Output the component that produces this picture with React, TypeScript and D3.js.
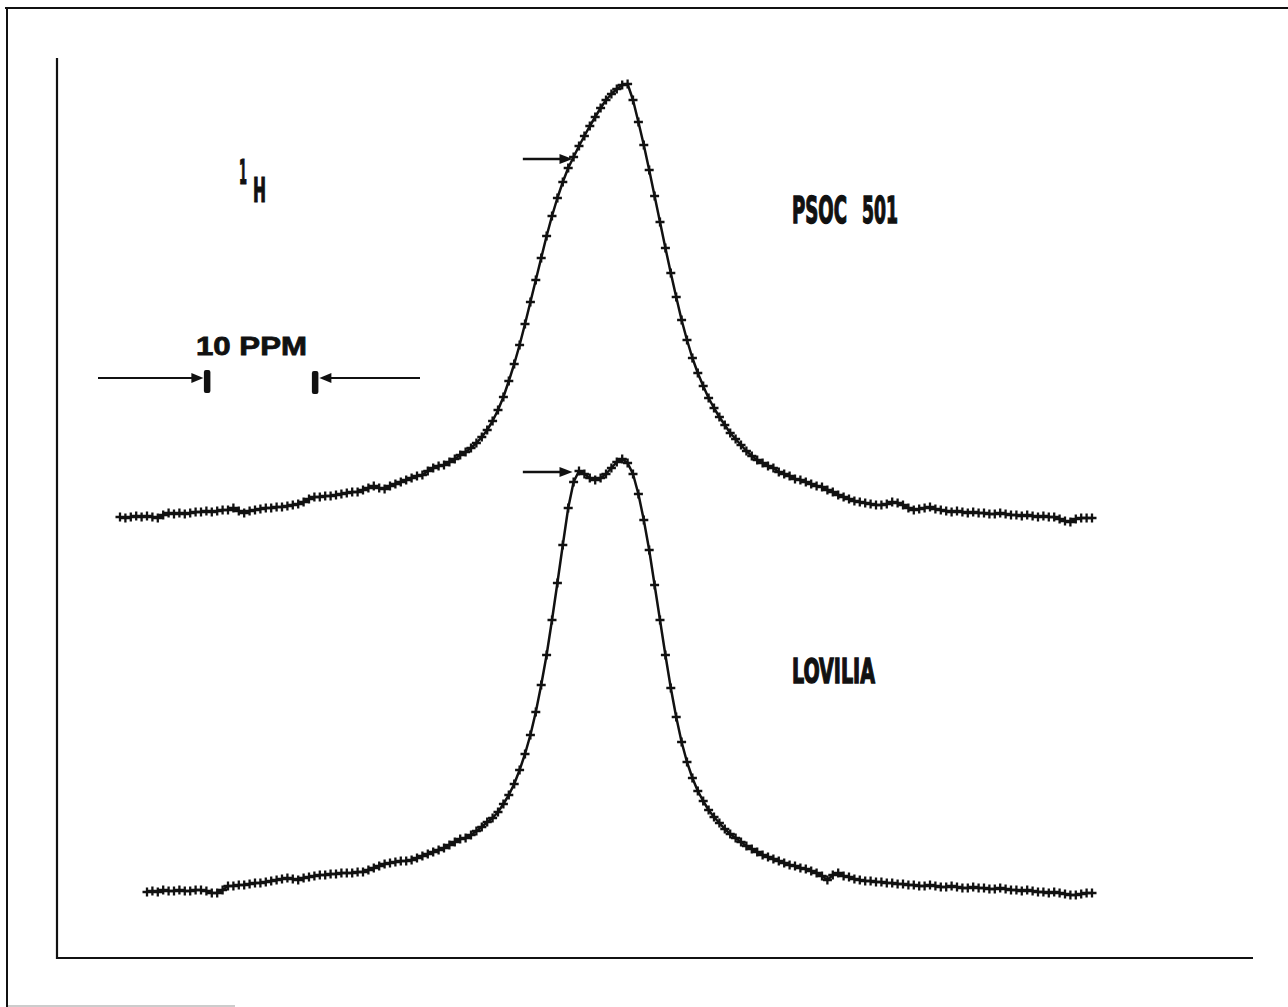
import React, { useLayoutEffect, useRef, useState } from "react";
import * as d3 from "d3";

// Sampling grid of both spectra (chemical shift, ppm)
const shiftStartPpm = 45;
const shiftStepPpm = 0.5;

// PSOC 501 intensities (arbitrary units, relative to its own baseline), from 45 ppm downward
const psocIntensity = [
  0, -0.2, 0, 0.2, 0, 0.2, 0, -0.2, 0.4, 0.8,
  0.6, 0.8, 0.6, 0.8, 1.0, 1.0, 1.2, 1.0, 1.2, 1.4,
  1.4, 1.8, 1.2, 0.8, 1.2, 1.4, 1.6, 1.8, 1.8, 2.0,
  2.0, 2.2, 2.4, 2.6, 3.0, 3.6, 4.0, 4.0, 4.2, 4.2,
  4.4, 4.6, 4.8, 5.0, 5.0, 5.4, 5.8, 6.2, 5.8, 5.6,
  6.2, 6.6, 7.0, 7.4, 7.8, 8.2, 8.4, 9.2, 9.8, 10.2,
  10.4, 11.0, 11.6, 12.4, 13.0, 13.8, 14.8, 16.0, 17.4, 19.2,
  21.4, 24.0, 27.2, 30.6, 34.4, 38.6, 43.0, 47.4, 51.8, 56.2,
  60.2, 63.8, 67.0, 69.8, 72.0, 74.2, 76.2, 78.2, 80.0, 81.8,
  83.4, 84.6, 85.6, 86.4, 86.6, 83.4, 79.0, 74.4, 69.4, 64.2,
  59.0, 53.8, 48.8, 44.0, 39.4, 35.4, 31.8, 28.8, 26.2, 23.8,
  21.8, 20.0, 18.4, 16.8, 15.6, 14.4, 13.2, 12.2, 11.4, 10.8,
  10.2, 9.8, 9.0, 8.6, 8.2, 7.6, 7.4, 7.0, 6.6, 6.2,
  6.0, 5.4, 5.0, 4.4, 4.0, 3.6, 3.2, 3.0, 2.8, 2.6,
  2.4, 2.4, 2.6, 3.0, 2.8, 2.4, 1.8, 1.4, 1.6, 1.8,
  2.0, 1.6, 1.4, 1.2, 1.0, 1.2, 1.0, 0.8, 1.0, 0.8,
  0.8, 0.6, 0.6, 0.8, 0.6, 0.4, 0.4, 0.2, 0.4, 0.2,
  0, 0.2, 0, 0, -0.4, -0.8, -1.0, -0.4, -0.2, -0.2,
  -0.2,
];

// LOVILIA intensities, starting at sample index 5 (42.5 ppm)
const loviliaStartIndex = 5;
const loviliaIntensity = [
  0.2, 0.4, 0.2, 0.6, 0.4,
  0.4, 0.6, 0.4, 0.4, 0.6, 0.6, 0.4, 0, 0, 0.6,
  1.4, 1.4, 1.6, 1.6, 1.8, 2.0, 2.0, 2.2, 2.4, 2.6,
  2.8, 3.0, 2.8, 2.6, 3.0, 3.2, 3.4, 3.6, 3.6, 3.8,
  3.8, 4.0, 4.0, 4.0, 4.2, 4.2, 4.6, 5.0, 5.4, 5.8,
  6.0, 6.2, 6.4, 6.4, 6.6, 7.0, 7.4, 7.8, 8.2, 8.6,
  9.0, 9.6, 10.2, 10.8, 11.0, 11.6, 12.4, 13.2, 14.2, 15.0,
  16.2, 17.8, 19.6, 21.8, 24.6, 27.8, 31.6, 36.2, 41.6, 47.6,
  54.6, 62.0, 69.6, 77.0, 82.2, 84.4, 83.8, 83.0, 82.6, 83.0,
  83.8, 85.0, 86.2, 86.8, 86.0, 83.8, 79.8, 74.6, 68.6, 61.6,
  54.6, 47.6, 41.0, 35.2, 30.2, 26.2, 23.0, 20.4, 18.4, 16.6,
  15.2, 14.0, 12.8, 11.8, 11.0, 10.2, 9.4, 8.8, 8.2, 7.6,
  7.2, 6.8, 6.4, 6.0, 5.6, 5.4, 5.0, 4.8, 4.4, 4.0,
  3.4, 2.6, 3.6, 4.0, 3.4, 3.2, 2.8, 2.6, 2.4, 2.4,
  2.2, 2.2, 2.0, 2.0, 1.8, 1.8, 1.6, 1.6, 1.4, 1.4,
  1.6, 1.4, 1.2, 1.2, 1.4, 1.2, 1.0, 1.0, 1.2, 1.0,
  1.0, 0.8, 0.8, 1.0, 0.8, 0.6, 0.6, 0.4, 0.6, 0.4,
  0.2, 0.2, 0, 0.2, 0, -0.2, -0.4, -0.4, -0.2, 0,
  0,
];

// Vertical stacking offsets of the two traces (intensity units)
const seriesNames = ["PSOC", "501", "LOVILIA"];
const seriesOffsets = [88.2, 13];

// Annotations (ppm / intensity units)
const scaleBarPpm = [37, 27];
const scaleBarLevel = 116;
const scaleBarLabel = "10 PPM";
const pointerTipPpm = 3.1;
const pointerTailPpm = 7.7;
const pointerLevels = [71.6, 84.2];

const W = 1288;
const H = 1007;
const ink = "#111";
const narrow = "'Liberation Sans Narrow', 'DejaVu Sans Condensed', 'Roboto Condensed', sans-serif";

function FitText(props: {
  x: number;
  y: number;
  width: number;
  size: number;
  family: string;
  strokeW: number;
  children: string;
}) {
  const ref = useRef<SVGTextElement>(null);
  const [sx, setSx] = useState(1);
  useLayoutEffect(() => {
    if (ref.current) {
      const w = ref.current.getComputedTextLength();
      if (w > 0) setSx(props.width / w);
    }
  }, [props.width, props.children]);
  return (
    <text
      ref={ref}
      transform={`translate(${props.x},${props.y}) scale(${sx},1)`}
      fontFamily={props.family}
      fontWeight="bold"
      fontSize={props.size}
      fill={ink}
      stroke={ink}
      strokeWidth={props.strokeW}
    >
      {props.children}
    </text>
  );
}

export default function App() {
  const xScale = d3.scaleLinear().domain([45, -45]).range([120, 1092]);
  const yScale = d3.scaleLinear().domain([0, 180]).range([958, 58]);

  const series = [
    psocIntensity.map((v, i) => ({ ppm: shiftStartPpm - i * shiftStepPpm, v })),
    loviliaIntensity.map((v, i) => ({
      ppm: shiftStartPpm - (i + loviliaStartIndex) * shiftStepPpm,
      v,
    })),
  ];

  const lines = series.map((s, k) =>
    d3
      .line<{ ppm: number; v: number }>()
      .x((d) => xScale(d.ppm))
      .y((d) => yScale(d.v + seriesOffsets[k]))(s) as string
  );

  const crosses = series.map((s, k) =>
    s
      .map((d) => {
        const x = xScale(d.ppm);
        const y = yScale(d.v + seriesOffsets[k]);
        return `M${(x - 4.5).toFixed(1)},${y.toFixed(1)}h9M${x.toFixed(1)},${(y - 4.5).toFixed(1)}v9`;
      })
      .join("")
  );

  const sbL = xScale(scaleBarPpm[0]);
  const sbR = xScale(scaleBarPpm[1]);
  const sbY = yScale(scaleBarLevel);
  const pTip = xScale(pointerTipPpm);
  const pTail = xScale(pointerTailPpm);

  return (
    <svg
      width={W}
      height={H}
      style={{ position: "absolute", left: 0, top: 0, background: "#fff" }}
    >
      <rect x={0} y={0} width={W} height={H} fill="#fff" />
      {/* outer frame */}
      <line x1={5} y1={8} x2={W} y2={8} stroke={ink} strokeWidth={2} />
      <line x1={7} y1={7} x2={7} y2={H} stroke={ink} strokeWidth={2} />
      <line x1={8} y1={1006} x2={235} y2={1006} stroke="#999" strokeWidth={1} />

      {/* axes */}
      <line x1={57} y1={58} x2={57} y2={959} stroke={ink} strokeWidth={2.2} />
      <line x1={56} y1={958} x2={1253} y2={958} stroke={ink} strokeWidth={2.2} />

      {/* spectra */}
      {lines.map((d, k) => (
        <path key={"l" + k} d={d} fill="none" stroke={ink} strokeWidth={2.5} strokeLinejoin="round" />
      ))}
      {crosses.map((d, k) => (
        <path key={"c" + k} d={d} fill="none" stroke={ink} strokeWidth={2.3} />
      ))}

      {/* pointer arrows */}
      {pointerLevels.map((lv, k) => {
        const y = yScale(lv + seriesOffsets[k]);
        return (
          <g key={"p" + k}>
            <line x1={pTail} y1={y} x2={pTip - 8} y2={y} stroke={ink} strokeWidth={2.4} />
            <path d={`M${pTip},${y}L${pTip - 13},${y - 5}L${pTip - 13},${y + 5}Z`} fill={ink} />
          </g>
        );
      })}

      {/* scale bar */}
      <line x1={98} y1={sbY} x2={sbL - 10} y2={sbY} stroke={ink} strokeWidth={2.2} />
      <path d={`M${sbL - 3},${sbY}L${sbL - 15},${sbY - 5}L${sbL - 15},${sbY + 5}Z`} fill={ink} />
      <rect x={sbL - 2.5} y={sbY - 8} width={6.5} height={23} rx={2} fill={ink} />
      <rect x={sbR - 2.5} y={sbY - 7} width={6.5} height={23} rx={2} fill={ink} />
      <path d={`M${sbR + 5},${sbY}L${sbR + 17},${sbY - 5}L${sbR + 17},${sbY + 5}Z`} fill={ink} />
      <line x1={sbR + 12} y1={sbY} x2={420} y2={sbY} stroke={ink} strokeWidth={2.2} />
      <FitText x={196} y={355} width={111} size={26} family="'Liberation Sans', Arial, sans-serif" strokeW={0.8}>
        {scaleBarLabel}
      </FitText>

      {/* nucleus label */}
      <FitText x={239} y={184} width={8} size={33} family={narrow} strokeW={1.2}>
        1
      </FitText>
      <FitText x={253} y={202} width={13} size={34} family={narrow} strokeW={1.2}>
        H
      </FitText>

      {/* series labels */}
      <FitText x={792} y={223} width={55} size={38} family={narrow} strokeW={1.4}>
        {seriesNames[0]}
      </FitText>
      <FitText x={862} y={223} width={36} size={38} family={narrow} strokeW={1.4}>
        {seriesNames[1]}
      </FitText>
      <FitText x={792} y={683} width={83} size={34} family={narrow} strokeW={1.4}>
        {seriesNames[2]}
      </FitText>
    </svg>
  );
}
